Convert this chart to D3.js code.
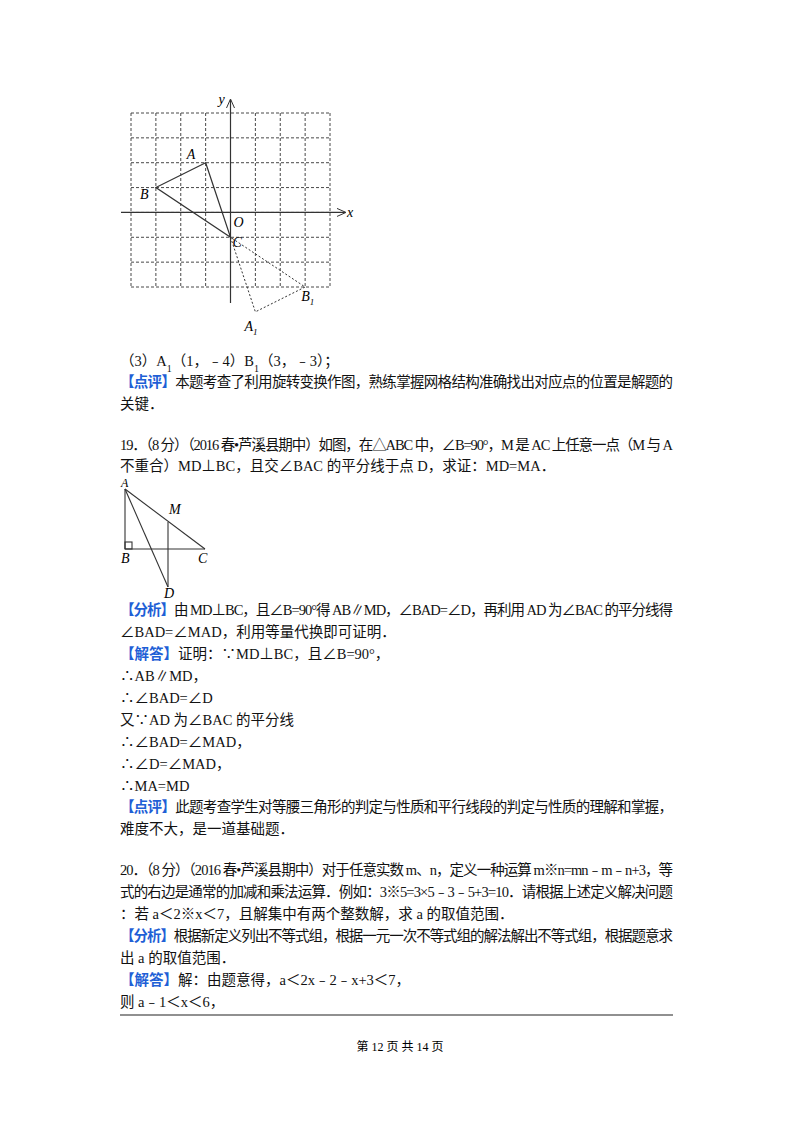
<!DOCTYPE html><html><head><meta charset="utf-8"><script src="https://cdn.jsdelivr.net/npm/d3@7"></script>
<style>body{margin:0;background:#fff}text{font-family:"Liberation Serif","Noto Sans CJK SC",serif}</style></head><body>
<svg id="s" width="800" height="1132"></svg>
<script>
const gridX=[-4,-3,-2,-1,0,1,2,3,4], gridY=[-3,-2,-1,0,1,2,3,4];
const triABC=[{n:"A",x:-1,y:2},{n:"B",x:-3,y:1},{n:"C",x:0,y:-1}];
const triA1B1C=[{n:"C",x:0,y:-1},{n:"A1",x:1,y:-4},{n:"B1",x:3,y:-3}];
// triangle 2 (unit coords)
const fig2={A:[0,0],B:[0,3],C:[4,3],M:[2.15,1.65],D:[2.15,4.9]};
const lines=[
 {y:366,t:[["（3）A"],["1","sub"],["（1，﹣4）B"],["1","sub"],["（3，﹣3）；"]]},
 {y:387,j:1,t:[["【点评】","b"],["本题考查了利用旋转变换作图，熟练掌握网格结构准确找出对应点的位置是解题的"]]},
 {y:409,t:[["关键．"]]},
 {y:450,j:1,t:[["19．（8 分）（2016 春•芦溪县期中）如图，在△ABC 中，∠B=90°，M 是 AC 上任意一点（M 与 A"]]},
 {y:471,t:[["不重合）MD⊥BC，且交∠BAC 的平分线于点 D，求证：MD=MA．"]]},
 {y:615,j:1,t:[["【分析】","b"],["由 MD⊥BC，且∠B=90°得 AB∥MD，∠BAD=∠D，再利用 AD 为∠BAC 的平分线得"]]},
 {y:637,t:[["∠BAD=∠MAD，利用等量代换即可证明．"]]},
 {y:659,t:[["【解答】","b"],["证明：∵MD⊥BC，且∠B=90°，"]]},
 {y:681,t:[["∴AB∥MD，"]]},
 {y:703,t:[["∴∠BAD=∠D"]]},
 {y:725,t:[["又∵AD 为∠BAC 的平分线"]]},
 {y:747,t:[["∴∠BAD=∠MAD，"]]},
 {y:769,t:[["∴∠D=∠MAD，"]]},
 {y:791,t:[["∴MA=MD"]]},
 {y:812,j:1,t:[["【点评】","b"],["此题考查学生对等腰三角形的判定与性质和平行线段的判定与性质的理解和掌握，"]]},
 {y:834,t:[["难度不大，是一道基础题．"]]},
 {y:875,j:1,t:[["20．（8 分）（2016 春•芦溪县期中）对于任意实数 m、n，定义一种运算 m※n=mn﹣m﹣n+3，等"]]},
 {y:897,j:1,t:[["式的右边是通常的加减和乘法运算．例如：3※5=3×5﹣3﹣5+3=10．请根据上述定义解决问题"]]},
 {y:919,t:[["：若 a＜2※x＜7，且解集中有两个整数解，求 a 的取值范围．"]]},
 {y:941,j:1,t:[["【分析】","b"],["根据新定义列出不等式组，根据一元一次不等式组的解法解出不等式组，根据题意求"]]},
 {y:963,t:[["出 a 的取值范围．"]]},
 {y:985,t:[["【解答】","b"],["解：由题意得，a＜2x﹣2﹣x+3＜7，"]]},
 {y:1007,t:[["则 a﹣1＜x＜6，"]]}
];
const svg=d3.select("#s");
const x=d3.scaleLinear().domain([-4,4]).range([131,330]);
const y=d3.scaleLinear().domain([-3,4]).range([287,113]);
const g=svg.append("g").attr("stroke","#333").attr("fill","none");
gridX.forEach(v=>g.append("line").attr("x1",x(v)).attr("x2",x(v)).attr("y1",y(4)).attr("y2",y(-3)).attr("stroke-dasharray","3,2").attr("stroke-width",0.9));
gridY.forEach(v=>g.append("line").attr("y1",y(v)).attr("y2",y(v)).attr("x1",x(-4)).attr("x2",x(4)).attr("stroke-dasharray","3,2").attr("stroke-width",0.9));
g.append("line").attr("x1",121).attr("x2",345).attr("y1",y(0)).attr("y2",y(0)).attr("stroke-width",1.2);
g.append("line").attr("x1",x(0)).attr("x2",x(0)).attr("y1",100).attr("y2",303).attr("stroke-width",1.2);
g.append("path").attr("d",`M${x(0)-4},${108}L${x(0)},${99}L${x(0)+4},${108}`);
g.append("path").attr("d",`M${337},${y(0)-4}L${346},${y(0)}L${337},${y(0)+4}`);
g.append("path").attr("d",d3.line().x(d=>x(d.x)).y(d=>y(d.y))(triABC)+"Z").attr("stroke-width",1.2);
g.append("path").attr("d",d3.line().x(d=>x(d.x)).y(d=>y(d.y))(triA1B1C)+"Z").attr("stroke-dasharray","2,2");
const it=(t,px,py,s=14)=>svg.append("text").attr("x",px).attr("y",py).attr("font-size",s).attr("font-style","italic").text(t);
it("y",x(0)-12,104);it("x",347,y(0)+5);it("O",x(0)+3,y(0)+15);it("C",x(0)+2,y(-1)+10);
it("A",x(-1)-19,y(2)-4);it("B",x(-3)-16,y(1)+11);
let b1=it("B",x(3)-4,y(-3)+14);b1.append("tspan").attr("font-size",9).attr("dy",4).text("1");
let a1=it("A",x(1)-11,y(-4)+19);a1.append("tspan").attr("font-size",9).attr("dy",4).text("1");
const fx=d3.scaleLinear().domain([0,4]).range([125,205]), fy=d3.scaleLinear().domain([0,3]).range([489,549]);
const P=k=>[fx(fig2[k][0]),fy(fig2[k][1])];
const g2=svg.append("g").attr("stroke","#333").attr("fill","none").attr("stroke-width",1.1);
[["A","B"],["B","C"],["A","C"],["A","D"],["M","D"]].forEach(([a,b])=>g2.append("line").attr("x1",P(a)[0]).attr("y1",P(a)[1]).attr("x2",P(b)[0]).attr("y2",P(b)[1]));
g2.append("rect").attr("x",fx(0)).attr("y",fy(3)-7).attr("width",7).attr("height",7);
it("A",P("A")[0]-4,P("A")[1]-2,12);it("B",P("B")[0]-4,P("B")[1]+14);it("C",P("C")[0]-7,P("C")[1]+14);
it("M",P("M")[0]+1,P("M")[1]-8);it("D",P("D")[0]-4,P("D")[1]+11);
lines.forEach(L=>{
 const t=svg.append("text").attr("x",120).attr("y",L.y).attr("font-size",14.5).attr("fill","#111");
 L.t.forEach(([s,k])=>{const sp=t.append("tspan").text(s);
  if(k==="b")sp.attr("fill","#1f5fd6").attr("font-weight","bold");
  if(k==="sub")sp.attr("font-size",10).attr("baseline-shift","sub");});
 if(L.j)t.attr("textLength",553).attr("lengthAdjust","spacing");
});
svg.append("line").attr("x1",120).attr("x2",673).attr("y1",1015).attr("y2",1015).attr("stroke","#222").attr("stroke-width",1.2);
svg.append("text").attr("x",400).attr("y",1051).attr("text-anchor","middle").attr("font-size",12).text("第 12 页 共 14 页");
</script></body></html>
